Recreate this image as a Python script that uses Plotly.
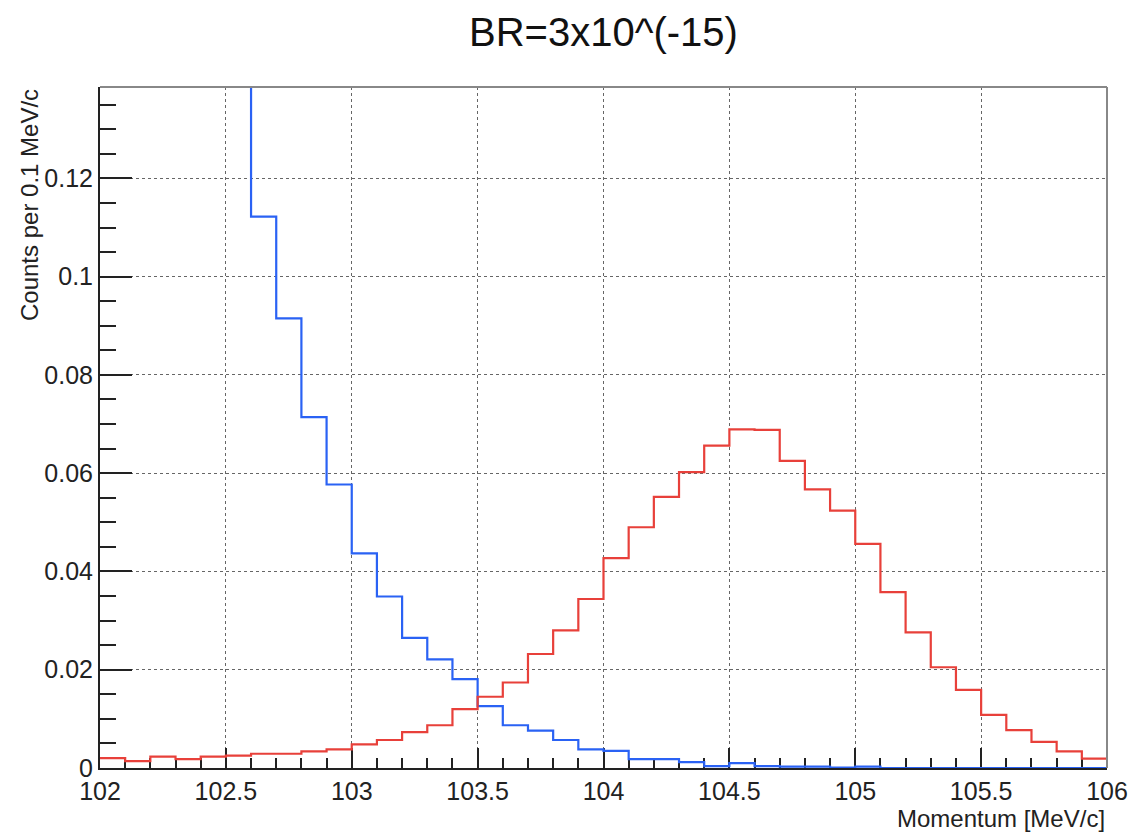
import numpy as np
import plotly.graph_objects as go

# Momentum histogram, 0.1 MeV/c bins from 102 to 106 MeV/c
bin_edges = [round(102.0 + 0.1 * i, 1) for i in range(41)]

# Signal (conversion) counts per bin
signal_counts = [
    0.0020, 0.0014, 0.0023, 0.0018, 0.0023, 0.0025, 0.0029, 0.0029, 0.0034, 0.0038,
    0.0048, 0.0057, 0.0073, 0.0087, 0.0120, 0.0145, 0.0174, 0.0232, 0.0280, 0.0344,
    0.0427, 0.0490, 0.0552, 0.0602, 0.0656, 0.0689, 0.0688, 0.0625, 0.0567, 0.0524,
    0.0456, 0.0358, 0.0276, 0.0205, 0.0159, 0.0108, 0.0077, 0.0053, 0.0034, 0.0019,
]

# Decay-in-orbit background counts per bin (first bins run off scale)
background_counts = [
    0.520, 0.420, 0.330, 0.260, 0.200, 0.150, 0.1122, 0.0915, 0.0714, 0.0577,
    0.0437, 0.0349, 0.0265, 0.0221, 0.0181, 0.0126, 0.0087, 0.0076, 0.0057, 0.0038,
    0.0035, 0.0018, 0.0018, 0.0012, 0.0004, 0.0010, 0.0004, 0.0003, 0.0003, 0.0001,
    0.0003, 0.0, 0.0, 0.0, 0.0, 0.0, 0.0, 0.0, 0.0, 0.0,
]

x_ticks = [102, 102.5, 103, 103.5, 104, 104.5, 105, 105.5, 106]
x_tick_text = ["102", "102.5", "103", "103.5", "104", "104.5", "105", "105.5", "106"]
y_ticks = [0, 0.02, 0.04, 0.06, 0.08, 0.1, 0.12]
y_tick_text = ["0", "0.02", "0.04", "0.06", "0.08", "0.1", "0.12"]

title_text = "BR=3x10^(-15)"
x_title = "Momentum [MeV/c]"
y_title = "Counts per 0.1 MeV/c"

FONT = "Liberation Sans, Arial, sans-serif"


def step_y(values):
    # repeat last bin so the 'hv' step covers the final bin
    return list(values) + [values[-1]]


fig = go.Figure()
fig.add_trace(go.Scatter(
    x=bin_edges, y=step_y(background_counts), mode="lines",
    line=dict(shape="hv", color="#2a62f4", width=2.2),
    showlegend=False, hoverinfo="skip",
))
fig.add_trace(go.Scatter(
    x=bin_edges, y=step_y(signal_counts), mode="lines",
    line=dict(shape="hv", color="#e8403a", width=2.2),
    showlegend=False, hoverinfo="skip",
))

grid = dict(showgrid=True, gridcolor="#666666", griddash="dot", gridwidth=1)

fig.update_xaxes(
    range=[102, 106], tickvals=x_ticks, ticktext=x_tick_text,
    ticks="inside", ticklen=20, tickwidth=2, tickcolor="#222",
    minor=dict(dtick=0.1, tick0=102, ticks="inside", ticklen=10,
               tickwidth=2, tickcolor="#222", showgrid=False),
    showline=True, linecolor="#222", linewidth=2, layer="below traces",
    tickfont=dict(family=FONT, size=25, color="#222"),
    zeroline=False, automargin=False, **grid,
)
fig.update_yaxes(
    range=[0, 0.1386], tickvals=y_ticks, ticktext=y_tick_text,
    ticks="inside", ticklen=32, tickwidth=2, tickcolor="#222",
    minor=dict(dtick=0.005, tick0=0, ticks="inside", ticklen=16,
               tickwidth=2, tickcolor="#222", showgrid=False),
    showline=True, linecolor="#222", linewidth=2, layer="below traces",
    tickfont=dict(family=FONT, size=25, color="#222"),
    zeroline=False, automargin=False, **grid,
)

# top and right frame lines of the pad
fig.add_shape(type="line", xref="paper", yref="paper", x0=0, x1=1, y0=1, y1=1,
              line=dict(color="#888888", width=2))
fig.add_shape(type="line", xref="paper", yref="paper", x0=1, x1=1, y0=0, y1=1,
              line=dict(color="#888888", width=2))

fig.add_annotation(
    text=x_title, xref="paper", yref="paper", x=1, y=0,
    xanchor="right", yanchor="middle", yshift=-50, showarrow=False,
    font=dict(family=FONT, size=24, color="#222"),
)
fig.add_annotation(
    text=y_title, xref="paper", yref="paper", x=0, y=1,
    xanchor="center", yanchor="top", xshift=-71, showarrow=False,
    textangle=-90, font=dict(family=FONT, size=24, color="#222"),
)

fig.update_layout(
    width=1132, height=832,
    margin=dict(l=100, r=25, t=87, b=64),
    paper_bgcolor="white", plot_bgcolor="white",
    title=dict(text=title_text, xref="paper", x=0.5, xanchor="center",
               yref="container", y=1 - 32 / 832, yanchor="middle",
               font=dict(family=FONT, size=40, color="#111")),
)

fig.write_html("out.html")
